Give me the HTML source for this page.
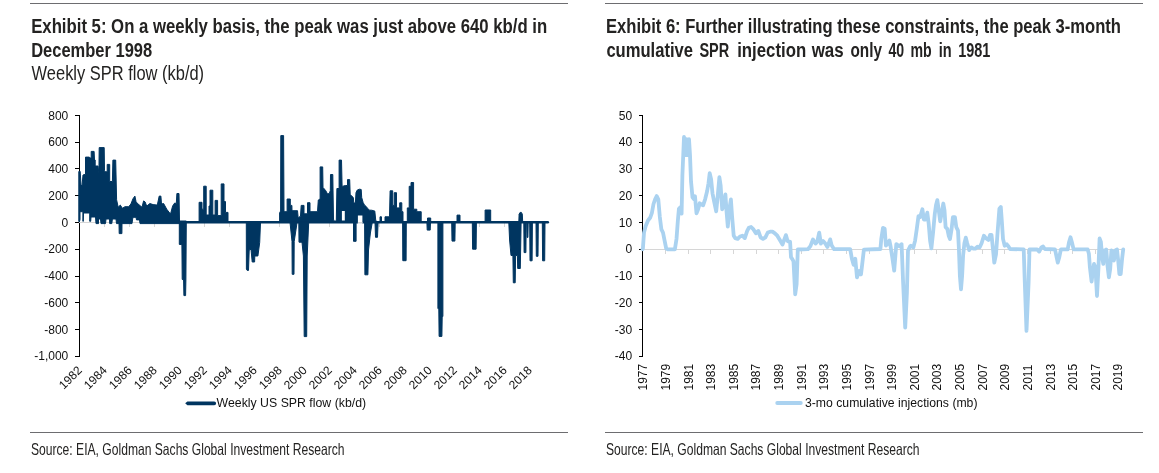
<!DOCTYPE html>
<html><head><meta charset="utf-8"><style>
html,body{margin:0;padding:0;background:#fff;}
svg{display:block;will-change:transform;}
</style></head><body>
<svg width="1159" height="473" viewBox="0 0 1159 473">
<rect width="1159" height="473" fill="#fff"/>
<rect x="30" y="3" width="538" height="1" fill="#6d6d70"/>
<rect x="30" y="432" width="538" height="1" fill="#6d6d70"/>
<rect x="605" y="3" width="538" height="1" fill="#6d6d70"/>
<rect x="605" y="432" width="538" height="1" fill="#6d6d70"/>
<text x="31.2" y="32.6" font-family="Liberation Sans, Arial, sans-serif" font-weight="bold" font-size="20" fill="#242322" textLength="516" lengthAdjust="spacingAndGlyphs">Exhibit 5: On a weekly basis, the peak was just above 640 kb/d in</text>
<text x="31.2" y="56.6" font-family="Liberation Sans, Arial, sans-serif" font-weight="bold" font-size="20" fill="#242322" textLength="121" lengthAdjust="spacingAndGlyphs">December 1998</text>
<text x="31.6" y="79.8" font-family="Liberation Sans, Arial, sans-serif" font-size="19.5" fill="#242322" textLength="172.5" lengthAdjust="spacingAndGlyphs">Weekly SPR flow (kb/d)</text>
<text x="606.0" y="32.6" font-family="Liberation Sans, Arial, sans-serif" font-weight="bold" font-size="20" fill="#242322" textLength="515" lengthAdjust="spacingAndGlyphs">Exhibit 6: Further illustrating these constraints, the peak 3-month</text>
<text x="606.40" y="56.6" font-family="Liberation Sans, Arial, sans-serif" font-weight="bold" font-size="20" fill="#242322" textLength="86.59" lengthAdjust="spacingAndGlyphs">cumulative</text>
<text x="699.40" y="56.6" font-family="Liberation Sans, Arial, sans-serif" font-weight="bold" font-size="20" fill="#242322" textLength="29.82" lengthAdjust="spacingAndGlyphs">SPR</text>
<text x="737.20" y="56.6" font-family="Liberation Sans, Arial, sans-serif" font-weight="bold" font-size="20" fill="#242322" textLength="68.98" lengthAdjust="spacingAndGlyphs">injection</text>
<text x="811.68" y="56.6" font-family="Liberation Sans, Arial, sans-serif" font-weight="bold" font-size="20" fill="#242322" textLength="32.02" lengthAdjust="spacingAndGlyphs">was</text>
<text x="850.50" y="56.6" font-family="Liberation Sans, Arial, sans-serif" font-weight="bold" font-size="20" fill="#242322" textLength="31.51" lengthAdjust="spacingAndGlyphs">only</text>
<text x="888.40" y="56.6" font-family="Liberation Sans, Arial, sans-serif" font-weight="bold" font-size="20" fill="#242322" textLength="15.70" lengthAdjust="spacingAndGlyphs">40</text>
<text x="910.50" y="56.6" font-family="Liberation Sans, Arial, sans-serif" font-weight="bold" font-size="20" fill="#242322" textLength="21.20" lengthAdjust="spacingAndGlyphs">mb</text>
<text x="938.80" y="56.6" font-family="Liberation Sans, Arial, sans-serif" font-weight="bold" font-size="20" fill="#242322" textLength="12.92" lengthAdjust="spacingAndGlyphs">in</text>
<text x="958.20" y="56.6" font-family="Liberation Sans, Arial, sans-serif" font-weight="bold" font-size="20" fill="#242322" textLength="32.10" lengthAdjust="spacingAndGlyphs">1981</text>
<text x="31.0" y="454.7" font-family="Liberation Sans, Arial, sans-serif" font-size="16.5" fill="#242322" textLength="313.5" lengthAdjust="spacingAndGlyphs">Source: EIA, Goldman Sachs Global Investment Research</text>
<text x="606.0" y="454.7" font-family="Liberation Sans, Arial, sans-serif" font-size="16.5" fill="#242322" textLength="313.5" lengthAdjust="spacingAndGlyphs">Source: EIA, Goldman Sachs Global Investment Research</text>
<rect x="79" y="115" width="1" height="242" fill="#000000"/>
<rect x="75" y="115" width="4" height="1" fill="#000000"/>
<text x="68.3" y="119.5" font-family="Liberation Sans, Arial, sans-serif" font-size="12" fill="#111" text-anchor="end">800</text>
<rect x="75" y="142" width="4" height="1" fill="#000000"/>
<text x="68.3" y="146.3" font-family="Liberation Sans, Arial, sans-serif" font-size="12" fill="#111" text-anchor="end">600</text>
<rect x="75" y="168" width="4" height="1" fill="#000000"/>
<text x="68.3" y="173.0" font-family="Liberation Sans, Arial, sans-serif" font-size="12" fill="#111" text-anchor="end">400</text>
<rect x="75" y="195" width="4" height="1" fill="#000000"/>
<text x="68.3" y="199.8" font-family="Liberation Sans, Arial, sans-serif" font-size="12" fill="#111" text-anchor="end">200</text>
<rect x="75" y="222" width="4" height="1" fill="#000000"/>
<text x="68.3" y="226.6" font-family="Liberation Sans, Arial, sans-serif" font-size="12" fill="#111" text-anchor="end">0</text>
<rect x="75" y="249" width="4" height="1" fill="#000000"/>
<text x="68.3" y="253.3" font-family="Liberation Sans, Arial, sans-serif" font-size="12" fill="#111" text-anchor="end">-200</text>
<rect x="75" y="276" width="4" height="1" fill="#000000"/>
<text x="68.3" y="280.1" font-family="Liberation Sans, Arial, sans-serif" font-size="12" fill="#111" text-anchor="end">-400</text>
<rect x="75" y="302" width="4" height="1" fill="#000000"/>
<text x="68.3" y="306.9" font-family="Liberation Sans, Arial, sans-serif" font-size="12" fill="#111" text-anchor="end">-600</text>
<rect x="75" y="329" width="4" height="1" fill="#000000"/>
<text x="68.3" y="333.7" font-family="Liberation Sans, Arial, sans-serif" font-size="12" fill="#111" text-anchor="end">-800</text>
<rect x="75" y="356" width="4" height="1" fill="#000000"/>
<text x="68.3" y="360.4" font-family="Liberation Sans, Arial, sans-serif" font-size="12" fill="#111" text-anchor="end">-1,000</text>
<rect x="79" y="222" width="470" height="1" fill="#d6d6d6"/>
<rect x="104" y="223" width="1" height="4" fill="#d6d6d6"/>
<rect x="129" y="223" width="1" height="4" fill="#d6d6d6"/>
<rect x="154" y="223" width="1" height="4" fill="#d6d6d6"/>
<rect x="179" y="223" width="1" height="4" fill="#d6d6d6"/>
<rect x="204" y="223" width="1" height="4" fill="#d6d6d6"/>
<rect x="229" y="223" width="1" height="4" fill="#d6d6d6"/>
<rect x="254" y="223" width="1" height="4" fill="#d6d6d6"/>
<rect x="279" y="223" width="1" height="4" fill="#d6d6d6"/>
<rect x="304" y="223" width="1" height="4" fill="#d6d6d6"/>
<rect x="329" y="223" width="1" height="4" fill="#d6d6d6"/>
<rect x="354" y="223" width="1" height="4" fill="#d6d6d6"/>
<rect x="379" y="223" width="1" height="4" fill="#d6d6d6"/>
<rect x="404" y="223" width="1" height="4" fill="#d6d6d6"/>
<rect x="429" y="223" width="1" height="4" fill="#d6d6d6"/>
<rect x="454" y="223" width="1" height="4" fill="#d6d6d6"/>
<rect x="479" y="223" width="1" height="4" fill="#d6d6d6"/>
<rect x="504" y="223" width="1" height="4" fill="#d6d6d6"/>
<rect x="529" y="223" width="1" height="4" fill="#d6d6d6"/>
<text transform="translate(82.6,371.0) rotate(-45)" font-family="Liberation Sans, Arial, sans-serif" font-size="12" fill="#111" text-anchor="end" font-size="11.2">1982</text>
<text transform="translate(107.6,371.0) rotate(-45)" font-family="Liberation Sans, Arial, sans-serif" font-size="12" fill="#111" text-anchor="end" font-size="11.2">1984</text>
<text transform="translate(132.6,371.0) rotate(-45)" font-family="Liberation Sans, Arial, sans-serif" font-size="12" fill="#111" text-anchor="end" font-size="11.2">1986</text>
<text transform="translate(157.6,371.0) rotate(-45)" font-family="Liberation Sans, Arial, sans-serif" font-size="12" fill="#111" text-anchor="end" font-size="11.2">1988</text>
<text transform="translate(182.6,371.0) rotate(-45)" font-family="Liberation Sans, Arial, sans-serif" font-size="12" fill="#111" text-anchor="end" font-size="11.2">1990</text>
<text transform="translate(207.6,371.0) rotate(-45)" font-family="Liberation Sans, Arial, sans-serif" font-size="12" fill="#111" text-anchor="end" font-size="11.2">1992</text>
<text transform="translate(232.6,371.0) rotate(-45)" font-family="Liberation Sans, Arial, sans-serif" font-size="12" fill="#111" text-anchor="end" font-size="11.2">1994</text>
<text transform="translate(257.6,371.0) rotate(-45)" font-family="Liberation Sans, Arial, sans-serif" font-size="12" fill="#111" text-anchor="end" font-size="11.2">1996</text>
<text transform="translate(282.6,371.0) rotate(-45)" font-family="Liberation Sans, Arial, sans-serif" font-size="12" fill="#111" text-anchor="end" font-size="11.2">1998</text>
<text transform="translate(307.6,371.0) rotate(-45)" font-family="Liberation Sans, Arial, sans-serif" font-size="12" fill="#111" text-anchor="end" font-size="11.2">2000</text>
<text transform="translate(332.6,371.0) rotate(-45)" font-family="Liberation Sans, Arial, sans-serif" font-size="12" fill="#111" text-anchor="end" font-size="11.2">2002</text>
<text transform="translate(357.6,371.0) rotate(-45)" font-family="Liberation Sans, Arial, sans-serif" font-size="12" fill="#111" text-anchor="end" font-size="11.2">2004</text>
<text transform="translate(382.6,371.0) rotate(-45)" font-family="Liberation Sans, Arial, sans-serif" font-size="12" fill="#111" text-anchor="end" font-size="11.2">2006</text>
<text transform="translate(407.6,371.0) rotate(-45)" font-family="Liberation Sans, Arial, sans-serif" font-size="12" fill="#111" text-anchor="end" font-size="11.2">2008</text>
<text transform="translate(432.6,371.0) rotate(-45)" font-family="Liberation Sans, Arial, sans-serif" font-size="12" fill="#111" text-anchor="end" font-size="11.2">2010</text>
<text transform="translate(457.6,371.0) rotate(-45)" font-family="Liberation Sans, Arial, sans-serif" font-size="12" fill="#111" text-anchor="end" font-size="11.2">2012</text>
<text transform="translate(482.6,371.0) rotate(-45)" font-family="Liberation Sans, Arial, sans-serif" font-size="12" fill="#111" text-anchor="end" font-size="11.2">2014</text>
<text transform="translate(507.6,371.0) rotate(-45)" font-family="Liberation Sans, Arial, sans-serif" font-size="12" fill="#111" text-anchor="end" font-size="11.2">2016</text>
<text transform="translate(532.6,371.0) rotate(-45)" font-family="Liberation Sans, Arial, sans-serif" font-size="12" fill="#111" text-anchor="end" font-size="11.2">2018</text>
<rect x="642" y="115" width="1" height="242" fill="#000000"/>
<rect x="639" y="115" width="4" height="1" fill="#000000"/>
<text x="632.2" y="119.5" font-family="Liberation Sans, Arial, sans-serif" font-size="12" fill="#111" text-anchor="end">50</text>
<rect x="639" y="142" width="4" height="1" fill="#000000"/>
<text x="632.2" y="146.3" font-family="Liberation Sans, Arial, sans-serif" font-size="12" fill="#111" text-anchor="end">40</text>
<rect x="639" y="168" width="4" height="1" fill="#000000"/>
<text x="632.2" y="173.0" font-family="Liberation Sans, Arial, sans-serif" font-size="12" fill="#111" text-anchor="end">30</text>
<rect x="639" y="195" width="4" height="1" fill="#000000"/>
<text x="632.2" y="199.8" font-family="Liberation Sans, Arial, sans-serif" font-size="12" fill="#111" text-anchor="end">20</text>
<rect x="639" y="222" width="4" height="1" fill="#000000"/>
<text x="632.2" y="226.6" font-family="Liberation Sans, Arial, sans-serif" font-size="12" fill="#111" text-anchor="end">10</text>
<rect x="639" y="249" width="4" height="1" fill="#000000"/>
<text x="632.2" y="253.3" font-family="Liberation Sans, Arial, sans-serif" font-size="12" fill="#111" text-anchor="end">0</text>
<rect x="639" y="276" width="4" height="1" fill="#000000"/>
<text x="632.2" y="280.1" font-family="Liberation Sans, Arial, sans-serif" font-size="12" fill="#111" text-anchor="end">-10</text>
<rect x="639" y="302" width="4" height="1" fill="#000000"/>
<text x="632.2" y="306.9" font-family="Liberation Sans, Arial, sans-serif" font-size="12" fill="#111" text-anchor="end">-20</text>
<rect x="639" y="329" width="4" height="1" fill="#000000"/>
<text x="632.2" y="333.7" font-family="Liberation Sans, Arial, sans-serif" font-size="12" fill="#111" text-anchor="end">-30</text>
<rect x="639" y="356" width="4" height="1" fill="#000000"/>
<text x="632.2" y="360.4" font-family="Liberation Sans, Arial, sans-serif" font-size="12" fill="#111" text-anchor="end">-40</text>
<rect x="643" y="249" width="481" height="1" fill="#d6d6d6"/>
<rect x="665" y="250" width="1" height="4" fill="#d6d6d6"/>
<rect x="688" y="250" width="1" height="4" fill="#d6d6d6"/>
<rect x="710" y="250" width="1" height="4" fill="#d6d6d6"/>
<rect x="733" y="250" width="1" height="4" fill="#d6d6d6"/>
<rect x="756" y="250" width="1" height="4" fill="#d6d6d6"/>
<rect x="778" y="250" width="1" height="4" fill="#d6d6d6"/>
<rect x="801" y="250" width="1" height="4" fill="#d6d6d6"/>
<rect x="823" y="250" width="1" height="4" fill="#d6d6d6"/>
<rect x="846" y="250" width="1" height="4" fill="#d6d6d6"/>
<rect x="869" y="250" width="1" height="4" fill="#d6d6d6"/>
<rect x="891" y="250" width="1" height="4" fill="#d6d6d6"/>
<rect x="914" y="250" width="1" height="4" fill="#d6d6d6"/>
<rect x="936" y="250" width="1" height="4" fill="#d6d6d6"/>
<rect x="959" y="250" width="1" height="4" fill="#d6d6d6"/>
<rect x="982" y="250" width="1" height="4" fill="#d6d6d6"/>
<rect x="1004" y="250" width="1" height="4" fill="#d6d6d6"/>
<rect x="1027" y="250" width="1" height="4" fill="#d6d6d6"/>
<rect x="1050" y="250" width="1" height="4" fill="#d6d6d6"/>
<rect x="1072" y="250" width="1" height="4" fill="#d6d6d6"/>
<rect x="1095" y="250" width="1" height="4" fill="#d6d6d6"/>
<rect x="1117" y="250" width="1" height="4" fill="#d6d6d6"/>
<text transform="translate(647.3,390.5) rotate(-90)" font-family="Liberation Sans, Arial, sans-serif" font-size="12" fill="#111" font-size="11.4">1977</text>
<text transform="translate(669.9,390.5) rotate(-90)" font-family="Liberation Sans, Arial, sans-serif" font-size="12" fill="#111" font-size="11.4">1979</text>
<text transform="translate(692.5,390.5) rotate(-90)" font-family="Liberation Sans, Arial, sans-serif" font-size="12" fill="#111" font-size="11.4">1981</text>
<text transform="translate(715.2,390.5) rotate(-90)" font-family="Liberation Sans, Arial, sans-serif" font-size="12" fill="#111" font-size="11.4">1983</text>
<text transform="translate(737.8,390.5) rotate(-90)" font-family="Liberation Sans, Arial, sans-serif" font-size="12" fill="#111" font-size="11.4">1985</text>
<text transform="translate(760.4,390.5) rotate(-90)" font-family="Liberation Sans, Arial, sans-serif" font-size="12" fill="#111" font-size="11.4">1987</text>
<text transform="translate(783.0,390.5) rotate(-90)" font-family="Liberation Sans, Arial, sans-serif" font-size="12" fill="#111" font-size="11.4">1989</text>
<text transform="translate(805.6,390.5) rotate(-90)" font-family="Liberation Sans, Arial, sans-serif" font-size="12" fill="#111" font-size="11.4">1991</text>
<text transform="translate(828.3,390.5) rotate(-90)" font-family="Liberation Sans, Arial, sans-serif" font-size="12" fill="#111" font-size="11.4">1993</text>
<text transform="translate(850.9,390.5) rotate(-90)" font-family="Liberation Sans, Arial, sans-serif" font-size="12" fill="#111" font-size="11.4">1995</text>
<text transform="translate(873.5,390.5) rotate(-90)" font-family="Liberation Sans, Arial, sans-serif" font-size="12" fill="#111" font-size="11.4">1997</text>
<text transform="translate(896.1,390.5) rotate(-90)" font-family="Liberation Sans, Arial, sans-serif" font-size="12" fill="#111" font-size="11.4">1999</text>
<text transform="translate(918.7,390.5) rotate(-90)" font-family="Liberation Sans, Arial, sans-serif" font-size="12" fill="#111" font-size="11.4">2001</text>
<text transform="translate(941.4,390.5) rotate(-90)" font-family="Liberation Sans, Arial, sans-serif" font-size="12" fill="#111" font-size="11.4">2003</text>
<text transform="translate(964.0,390.5) rotate(-90)" font-family="Liberation Sans, Arial, sans-serif" font-size="12" fill="#111" font-size="11.4">2005</text>
<text transform="translate(986.6,390.5) rotate(-90)" font-family="Liberation Sans, Arial, sans-serif" font-size="12" fill="#111" font-size="11.4">2007</text>
<text transform="translate(1009.2,390.5) rotate(-90)" font-family="Liberation Sans, Arial, sans-serif" font-size="12" fill="#111" font-size="11.4">2009</text>
<text transform="translate(1031.8,390.5) rotate(-90)" font-family="Liberation Sans, Arial, sans-serif" font-size="12" fill="#111" font-size="11.4">2011</text>
<text transform="translate(1054.5,390.5) rotate(-90)" font-family="Liberation Sans, Arial, sans-serif" font-size="12" fill="#111" font-size="11.4">2013</text>
<text transform="translate(1077.1,390.5) rotate(-90)" font-family="Liberation Sans, Arial, sans-serif" font-size="12" fill="#111" font-size="11.4">2015</text>
<text transform="translate(1099.7,390.5) rotate(-90)" font-family="Liberation Sans, Arial, sans-serif" font-size="12" fill="#111" font-size="11.4">2017</text>
<text transform="translate(1122.3,390.5) rotate(-90)" font-family="Liberation Sans, Arial, sans-serif" font-size="12" fill="#111" font-size="11.4">2019</text>
<path d="M185.2,403.3 L187.4,401.4 L214.2,401.4 A1.9,1.9 0 0 1 214.2,405.2 L187.4,405.2 Z" fill="#003560"/>
<text x="216.6" y="407.4" font-family="Liberation Sans, Arial, sans-serif" font-size="12.2" fill="#111" textLength="149.5" lengthAdjust="spacingAndGlyphs">Weekly US SPR flow (kb/d)</text>
<line x1="777.2" y1="403.0" x2="800.8" y2="403.0" stroke="#aad2f0" stroke-width="3.8" stroke-linecap="round"/>
<text x="805.0" y="407.3" font-family="Liberation Sans, Arial, sans-serif" font-size="12.2" fill="#111" textLength="172.5" lengthAdjust="spacingAndGlyphs">3-mo cumulative injections (mb)</text>
<line x1="180" y1="222.3" x2="547.8" y2="222.3" stroke="#003560" stroke-width="2.6" stroke-linecap="round"/>
<polygon points="78.8,171.5 80.2,171.4 81.0,185.0 82.0,186.0 83.0,175.0 85.5,174.3 85.5,157.1 89.3,157.1 89.5,158.0 91.2,158.0 91.2,151.4 94.1,151.4 94.5,160.0 95.2,160.0 95.2,166.0 98.0,166.0 98.9,173.3 99.2,147.6 104.2,147.6 104.5,170.5 105.0,171.8 107.2,171.8 107.2,164.4 109.7,164.4 109.7,181.5 112.4,181.5 112.9,160.1 115.7,160.1 116.6,199.8 118.2,207.2 120.3,205.1 122.4,208.3 125.0,206.7 128.7,206.7 130.9,204.0 133.0,198.7 134.9,196.1 136.1,201.9 139.3,205.1 142.0,207.2 143.6,200.9 145.1,201.9 146.7,206.1 149.9,203.5 153.1,204.6 157.3,205.1 159.2,196.1 160.9,196.1 161.5,204.0 163.6,203.5 166.8,209.3 170.5,214.1 172.6,206.1 174.7,203.0 176.3,203.5 176.9,193.5 179.0,193.5 179.5,221.0 180.1,223.6 140.0,223.6 139.5,219.9 136.5,219.9 136.0,217.3 133.0,217.3 132.5,219.9 132.0,223.6 122.0,223.6 121.9,233.6 119.2,233.6 119.0,223.6 116.5,223.6 116.0,219.0 112.4,219.0 111.8,223.6 109.7,223.6 109.5,219.0 106.0,219.0 105.5,223.6 101.0,223.6 100.5,219.0 98.5,219.0 98.5,223.6 96.0,223.6 95.5,217.0 91.0,217.0 90.7,221.3 89.7,221.3 89.7,213.0 83.5,213.0 83.3,221.3 82.9,221.3 82.9,211.7 80.0,211.7 80.0,219.5 79.5,221.5 78.8,221.5" fill="#003560" stroke="#003560" stroke-width="1" stroke-linejoin="round"/>
<polygon points="179.3,221.0 179.3,244.4 181.9,244.6 182.2,279.4 183.6,280.0 183.9,295.6 185.6,295.6 185.9,280.0 186.3,221.0" fill="#003560" stroke="#003560" stroke-width="1" stroke-linejoin="round"/>
<polygon points="199.1,222.3 199.1,202.3 202.0,202.3 202.0,209.2 203.7,209.2 203.7,186.2 206.2,186.2 206.2,215.0 209.0,215.0 209.0,206.0 210.0,206.0 210.0,190.2 212.8,190.2 212.8,215.0 215.1,215.0 215.1,200.4 217.6,200.4 217.6,215.6 221.2,215.6 221.2,183.9 224.0,183.9 224.0,201.6 225.5,201.6 225.5,212.4 228.0,212.4 228.0,222.3" fill="#003560" stroke="#003560" stroke-width="1" stroke-linejoin="round"/>
<polygon points="246.3,222.3 246.4,269.0 247.2,270.4 248.5,270.4 249.2,250.0 251.0,249.3 252.2,262.0 254.6,262.0 254.8,256.0 257.9,256.0 259.7,242.5 260.5,222.3" fill="#003560" stroke="#003560" stroke-width="1" stroke-linejoin="round"/>
<polygon points="279.6,222.3 279.6,213.0 280.6,211.0 280.8,135.6 283.6,135.6 284.0,211.7 287.1,211.7 287.1,199.0 290.3,199.0 290.3,205.4 291.9,205.4 292.0,210.7 297.5,210.7 298.2,218.0 300.5,216.0 301.2,205.4 304.0,205.4 304.0,213.8 307.5,213.8 307.5,202.7 310.0,202.7 310.0,211.7 317.5,211.7 318.3,200.0 320.1,199.0 320.1,166.9 322.7,166.9 323.0,187.4 325.7,190.6 327.4,193.7 329.2,193.7 330.3,190.6 330.5,174.5 332.8,174.5 333.1,195.0 333.5,219.0 333.9,221.0 336.3,221.0 336.9,188.5 339.1,188.5 339.1,160.1 341.5,160.1 342.1,186.4 345.5,185.5 347.5,185.5 347.5,179.6 349.7,179.6 350.2,194.6 353.3,197.5 353.8,203.0 355.4,203.0 356.0,192.6 357.3,190.0 359.5,189.2 361.2,189.5 361.7,197.5 363.1,202.4 364.6,205.3 366.0,206.3 367.5,208.2 369.5,210.2 371.4,210.2 373.3,210.6 374.8,211.1 375.8,220.9 378.7,222.3" fill="#003560" stroke="#003560" stroke-width="1" stroke-linejoin="round"/>
<polygon points="385.0,222.3 385.0,216.8 389.5,216.8 390.1,190.8 392.7,190.8 392.7,205.4 394.2,205.4 394.2,192.7 396.5,192.7 396.5,207.9 399.7,207.9 399.7,202.8 401.8,202.8 401.8,211.7 403.0,211.7 403.0,222.3" fill="#003560" stroke="#003560" stroke-width="1" stroke-linejoin="round"/>
<polygon points="407.3,222.3 407.3,207.9 409.2,207.9 409.2,186.3 411.0,186.3 411.0,182.5 413.6,182.5 413.6,209.2 416.8,209.2 416.8,211.7 421.2,211.7 421.2,222.3" fill="#003560" stroke="#003560" stroke-width="1" stroke-linejoin="round"/>
<polygon points="427.5,222.3 427.5,218.0 430.7,218.0 430.7,222.3" fill="#003560" stroke="#003560" stroke-width="1" stroke-linejoin="round"/>
<polygon points="457.0,222.3 457.0,215.1 460.0,215.1 460.0,222.3" fill="#003560" stroke="#003560" stroke-width="1" stroke-linejoin="round"/>
<polygon points="485.1,222.3 485.1,210.0 490.7,210.0 490.7,222.3" fill="#003560" stroke="#003560" stroke-width="1" stroke-linejoin="round"/>
<polygon points="380.0,222.3 380.0,216.8 381.5,216.8 381.5,222.3" fill="#003560" stroke="#003560" stroke-width="1" stroke-linejoin="round"/>
<polygon points="290.0,222.3 292.0,241.5 292.2,274.3 294.0,274.3 294.2,241.5 297.1,222.3" fill="#003560" stroke="#003560" stroke-width="1" stroke-linejoin="round"/>
<polygon points="298.8,222.3 299.0,242.2 302.0,242.2 303.4,256.0 304.2,336.6 306.7,336.6 307.2,256.0 308.7,222.3" fill="#003560" stroke="#003560" stroke-width="1" stroke-linejoin="round"/>
<polygon points="353.5,222.3 353.5,241.3 356.1,241.3 356.1,222.3" fill="#003560" stroke="#003560" stroke-width="1" stroke-linejoin="round"/>
<polygon points="364.6,222.3 364.9,274.8 367.9,274.8 368.5,250.0 370.4,233.0 372.3,222.3" fill="#003560" stroke="#003560" stroke-width="1" stroke-linejoin="round"/>
<polygon points="375.0,222.3 375.5,237.3 377.5,237.3 378.1,222.3" fill="#003560" stroke="#003560" stroke-width="1" stroke-linejoin="round"/>
<polygon points="402.6,222.3 402.8,260.7 406.1,260.7 406.3,222.3" fill="#003560" stroke="#003560" stroke-width="1" stroke-linejoin="round"/>
<polygon points="426.9,222.3 427.2,230.1 430.2,230.1 430.5,222.3" fill="#003560" stroke="#003560" stroke-width="1" stroke-linejoin="round"/>
<polygon points="437.9,222.3 437.9,308.6 438.8,308.6 439.1,336.4 441.9,336.4 442.2,316.5 442.9,316.5 442.9,222.3" fill="#003560" stroke="#003560" stroke-width="1" stroke-linejoin="round"/>
<polygon points="451.7,222.3 452.0,241.1 454.9,241.1 455.2,222.3" fill="#003560" stroke="#003560" stroke-width="1" stroke-linejoin="round"/>
<polygon points="472.3,222.3 472.6,249.2 476.1,249.2 476.4,222.3" fill="#003560" stroke="#003560" stroke-width="1" stroke-linejoin="round"/>
<polygon points="508.8,222.3 509.6,240.0 511.0,255.5 512.9,255.5 513.3,282.8 515.2,282.8 515.6,255.5 517.4,255.5 517.7,268.5 520.3,268.5 520.8,240.0 521.1,222.3" fill="#003560" stroke="#003560" stroke-width="1" stroke-linejoin="round"/>
<polygon points="518.8,222.3 519.1,214.2 520.1,212.4 521.4,212.4 522.3,214.2 522.7,222.3" fill="#003560" stroke="#003560" stroke-width="1" stroke-linejoin="round"/>
<polygon points="523.8,222.3 524.1,252.6 525.9,252.6 526.2,222.3" fill="#003560" stroke="#003560" stroke-width="1" stroke-linejoin="round"/>
<polygon points="526.8,222.3 527.1,237.4 527.9,237.4 528.2,222.3" fill="#003560" stroke="#003560" stroke-width="1" stroke-linejoin="round"/>
<polygon points="529.7,222.3 530.0,260.8 532.1,260.8 532.4,222.3" fill="#003560" stroke="#003560" stroke-width="1" stroke-linejoin="round"/>
<polygon points="536.0,222.3 536.3,256.3 538.0,256.3 538.3,222.3" fill="#003560" stroke="#003560" stroke-width="1" stroke-linejoin="round"/>
<polygon points="542.3,222.3 542.6,260.8 544.7,260.8 545.0,222.3" fill="#003560" stroke="#003560" stroke-width="1" stroke-linejoin="round"/>
<polygon points="357.9,215.5 362.4,215.5 362.4,223.8 357.9,223.8" fill="#fff"/>
<polygon points="341.9,211.0 344.8,211.0 344.8,220.5 341.9,220.5" fill="#fff"/>
<rect x="357.9" y="222" width="4.5" height="1" fill="#d6d6d6"/>
<polyline points="642.5,249.2 642.9,248.5 644.0,232.6 645.6,226.3 647.9,220.7 650.3,217.5 651.9,212.8 653.5,204.0 655.1,199.3 656.7,196.1 658.3,199.3 659.8,216.7 661.4,229.4 663.0,232.6 664.6,240.6 666.2,248.5 667.8,249.3 674.9,249.3 676.5,239.0 677.8,221.5 678.9,208.8 680.5,207.2 681.6,213.6 682.4,175.2 684.0,137.0 685.4,155.1 686.6,139.1 688.0,155.1 689.0,139.1 690.0,155.1 691.0,181.2 692.5,197.3 694.1,199.3 695.0,196.3 696.5,213.4 698.1,209.3 699.7,203.3 701.1,204.3 703.1,205.3 705.1,199.3 707.1,191.3 708.5,183.2 709.7,173.2 711.1,179.2 712.5,193.3 714.1,201.3 716.2,211.3 717.8,195.3 719.4,177.2 720.6,185.2 722.2,209.3 723.8,205.3 725.4,194.3 726.6,212.0 727.8,226.5 729.2,210.0 730.9,199.3 732.1,216.7 733.7,235.7 735.3,238.1 737.7,238.9 740.0,236.5 742.4,235.7 744.8,238.1 747.2,230.9 748.8,227.8 751.1,227.0 753.5,229.4 755.9,233.3 758.3,230.9 760.6,237.3 763.0,238.9 765.4,237.3 767.8,232.5 770.1,231.7 772.5,231.7 774.9,233.3 777.3,235.7 779.7,239.7 782.5,244.5 785.9,235.1 787.6,241.1 790.1,241.9 791.0,257.1 792.7,259.7 793.5,261.4 795.2,294.3 796.6,284.2 797.8,249.5 807.9,249.2 810.4,246.1 813.0,239.4 815.5,243.6 817.2,241.9 819.2,232.6 820.9,243.6 823.1,241.1 825.3,243.6 827.4,247.0 830.2,239.4 831.6,245.3 834.1,249.2 850.2,249.2 851.9,258.8 853.6,264.7 855.3,258.8 857.0,277.4 859.3,271.0 861.0,274.4 862.2,264.3 863.9,249.6 880.4,249.0 881.3,238.9 883.0,227.9 884.7,228.8 885.9,245.7 887.2,244.0 889.4,240.6 890.6,246.5 892.3,257.5 894.2,270.7 896.3,244.2 899.5,246.3 901.6,244.2 903.1,282.3 905.2,327.7 906.9,292.9 908.0,250.6 910.1,246.3 910.9,245.7 913.4,247.4 915.1,240.6 916.8,228.8 918.5,216.1 920.2,216.9 922.4,209.3 923.9,219.5 925.6,219.5 927.3,212.7 928.7,223.8 930.1,240.7 931.4,248.4 933.1,232.3 934.8,213.7 936.0,205.2 937.3,200.1 938.5,208.6 940.2,221.3 941.9,212.0 943.3,203.5 944.5,210.3 945.6,227.2 947.3,228.9 948.7,235.7 950.0,239.0 951.6,228.9 952.9,217.1 954.9,217.1 956.3,227.2 958.0,230.6 958.9,248.7 959.9,276.2 961.0,289.3 962.1,276.2 963.1,255.6 964.4,243.2 965.8,237.7 967.2,243.2 969.2,250.1 971.3,247.4 973.4,248.7 975.4,248.7 977.5,246.7 979.6,247.4 981.6,243.2 983.9,235.7 985.9,238.2 988.4,239.9 990.1,234.8 991.5,234.8 993.0,249.2 994.3,262.7 996.0,254.3 997.7,230.6 999.4,208.6 1000.8,206.9 1002.0,223.7 1003.0,238.9 1004.7,245.7 1006.8,244.3 1008.5,246.5 1010.1,249.0 1023.7,249.4 1024.8,282.3 1026.5,330.9 1028.6,282.3 1029.5,249.5 1037.2,249.4 1039.2,251.6 1041.4,247.4 1043.1,246.5 1044.8,249.0 1055.0,249.4 1056.7,257.5 1057.8,262.6 1059.2,257.5 1060.9,249.4 1067.7,249.4 1069.0,242.3 1070.5,237.2 1071.9,242.3 1073.6,249.4 1087.7,249.4 1088.9,253.7 1089.9,267.3 1091.6,281.6 1092.8,272.3 1094.0,263.9 1095.4,267.3 1097.0,296.0 1098.4,269.0 1099.6,238.5 1100.9,241.9 1102.1,257.1 1103.3,263.9 1104.3,250.4 1105.5,253.7 1106.3,249.5 1107.5,265.6 1108.9,277.4 1110.2,269.0 1111.4,250.4 1112.6,252.0 1113.9,260.5 1115.3,250.4 1117.0,249.5 1118.2,260.5 1119.4,274.0 1120.7,274.0 1122.1,258.8 1123.2,249.5" fill="none" stroke="#aad2f0" stroke-width="3.8" stroke-linejoin="round" stroke-linecap="round"/>
</svg>
</body></html>
